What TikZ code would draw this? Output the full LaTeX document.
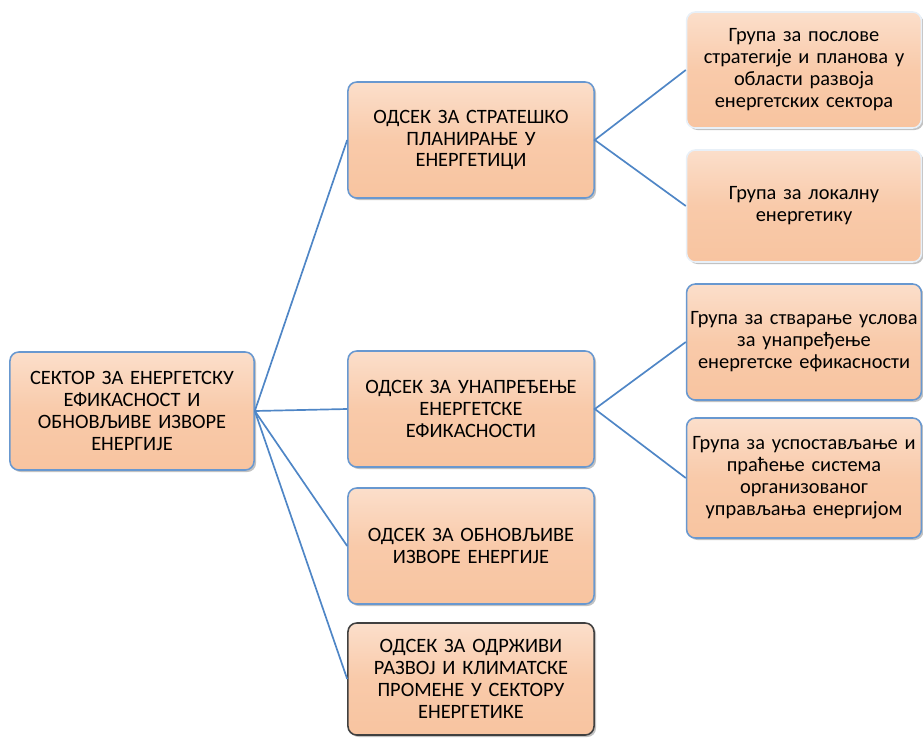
\documentclass[tikz,border=0pt]{standalone}
\usepackage{fontspec}
\setmainfont{Carlito}
\usetikzlibrary{shadows}
\definecolor{breskva}{RGB}{248,196,160}
\definecolor{linija}{RGB}{79,134,198}
\definecolor{okvir}{RGB}{104,152,208}
\tikzset{box/.style={draw=okvir, line width=1.1pt, rounded corners=0.22cm, top color=breskva!55!white, bottom color=breskva,
        middle color=breskva!90!white,
        align=center, inner sep=1pt, font=\fontsize{14.5}{15.6}\selectfont,
        drop shadow={shadow xshift=0.05cm, shadow yshift=-0.05cm, opacity=0.4, fill=black!60}},
    odsek/.style={box, minimum width=6.15cm, minimum height=2.9cm, text width=6cm},
    grupa/.style={box, minimum width=5.85cm, minimum height=2.9cm, text width=5.8cm},
    veza/.style={draw=linija, line width=1.2pt}}

\begin{document}
\begin{tikzpicture}[x=0.025cm,y=-0.025cm]
    \useasboundingbox (0,0) rectangle (923,738);
    \node[box, minimum width=6.1cm, minimum height=2.95cm, text width=6cm] (sektor) at (132,411)
        {СЕКТОР ЗА ЕНЕРГЕТСКУ\\ЕФИКАСНОСТ И\\ОБНОВЉИВЕ ИЗВОРЕ\\ЕНЕРГИЈЕ};

    % odseci
    \node[odsek] (o1) at (471,140) {ОДСЕК ЗА СТРАТЕШКО\\ПЛАНИРАЊЕ У\\ЕНЕРГЕТИЦИ};
    \node[odsek] (o2) at (471,409) {ОДСЕК ЗА УНАПРЕЂЕЊЕ\\ЕНЕРГЕТСКЕ\\ЕФИКАСНОСТИ};
    \node[odsek] (o3) at (471,546) {ОДСЕК ЗА ОБНОВЉИВЕ\\ИЗВОРЕ ЕНЕРГИЈЕ};
    \node[odsek, draw=black!75, minimum height=2.8cm] (o4) at (471,679) {ОДСЕК ЗА ОДРЖИВИ\\РАЗВОЈ И КЛИМАТСКЕ\\ПРОМЕНЕ У СЕКТОРУ\\ЕНЕРГЕТИКЕ};

    % grupe
    \node[grupa, draw=white!85!okvir] (g1) at (804,70) {Група за послове\\стратегије и планова у\\области развоја\\енергетских сектора};
    \node[grupa, draw=white!85!okvir, minimum height=2.8cm] (g2) at (804,206) {Група за локалну\\енергетику};
    \node[grupa] (g3) at (804,342) {Група за стварање услова\\за унапређење\\енергетске ефикасности};
    \node[grupa, minimum height=3cm] (g4) at (804,478) {Група за успостављање и\\праћење система\\организованог\\управљања енергијом};

    \foreach \o in {o1,o2,o3,o4}
        \draw[veza] (sektor.east) -- (\o.west);
    \draw[veza] (g1.west) -- (o1.east) -- (g2.west);
    \draw[veza] (g3.west) -- (o2.east) -- (g4.west);
\end{tikzpicture}
\end{document}
